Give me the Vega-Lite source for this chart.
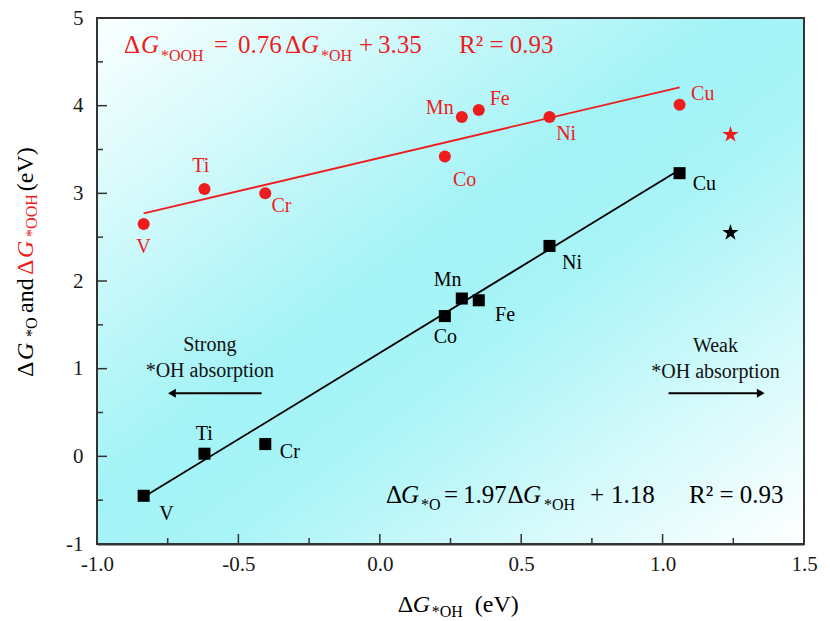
{
  "$schema": "https://vega.github.io/schema/vega-lite/v6.json",
  "width": 707,
  "height": 526,
  "autosize": "none",
  "padding": {"left": 97, "top": 18, "right": 26, "bottom": 77},
  "background": "white",
  "config": {
    "view": {"stroke": null},
    "font": "Liberation Serif",
    "axis": {
      "grid": false,
      "tickSize": 0,
      "tickOpacity": 0,
      "labelFlush": false,
      "labelOverlap": false,
      "labelBound": false,
      "labelFont": "Liberation Serif",
      "labelFontSize": 21,
      "labelColor": "#1a1a1a",
      "domainColor": "#333333",
      "domainWidth": 2
    },
    "axisX": {"labelPadding": 9},
    "axisY": {"labelPadding": 14}
  },
  "datasets": {
    "points": [
      {"element": "V", "series": "OOH", "x": -0.835, "y": 2.65},
      {"element": "Ti", "series": "OOH", "x": -0.62, "y": 3.05},
      {"element": "Cr", "series": "OOH", "x": -0.405, "y": 3.0},
      {"element": "Co", "series": "OOH", "x": 0.23, "y": 3.42},
      {"element": "Mn", "series": "OOH", "x": 0.29, "y": 3.87},
      {"element": "Fe", "series": "OOH", "x": 0.35, "y": 3.95},
      {"element": "Ni", "series": "OOH", "x": 0.6, "y": 3.87},
      {"element": "Cu", "series": "OOH", "x": 1.06, "y": 4.01},
      {"element": "V", "series": "O", "x": -0.835, "y": -0.45},
      {"element": "Ti", "series": "O", "x": -0.62, "y": 0.03},
      {"element": "Cr", "series": "O", "x": -0.405, "y": 0.14},
      {"element": "Co", "series": "O", "x": 0.23, "y": 1.6},
      {"element": "Mn", "series": "O", "x": 0.29, "y": 1.8},
      {"element": "Fe", "series": "O", "x": 0.35, "y": 1.78},
      {"element": "Ni", "series": "O", "x": 0.6, "y": 2.4},
      {"element": "Cu", "series": "O", "x": 1.06, "y": 3.23}
    ],
    "stars": [
      {"series": "OOH", "x": 1.24, "y": 3.67},
      {"series": "O", "x": 1.24, "y": 2.55}
    ],
    "fits": [
      {"series": "OOH", "x": -0.835, "y": 2.77},
      {"series": "OOH", "x": 1.06, "y": 4.21},
      {"series": "O", "x": -0.835, "y": -0.465},
      {"series": "O", "x": 1.06, "y": 3.268}
    ],
    "tags": [
      {"element": "V", "series": "OOH", "x": -0.836, "y": 2.39},
      {"element": "Ti", "series": "OOH", "x": -0.633, "y": 3.31},
      {"element": "Cr", "series": "OOH", "x": -0.348, "y": 2.85},
      {"element": "Co", "series": "OOH", "x": 0.3, "y": 3.15},
      {"element": "Mn", "series": "OOH", "x": 0.212, "y": 3.97},
      {"element": "Fe", "series": "OOH", "x": 0.424, "y": 4.08},
      {"element": "Ni", "series": "OOH", "x": 0.659, "y": 3.68},
      {"element": "Cu", "series": "OOH", "x": 1.142, "y": 4.13},
      {"element": "V", "series": "O", "x": -0.754, "y": -0.66},
      {"element": "Ti", "series": "O", "x": -0.621, "y": 0.26},
      {"element": "Cr", "series": "O", "x": -0.318, "y": 0.05},
      {"element": "Co", "series": "O", "x": 0.232, "y": 1.36},
      {"element": "Mn", "series": "O", "x": 0.24, "y": 2.01},
      {"element": "Fe", "series": "O", "x": 0.443, "y": 1.61},
      {"element": "Ni", "series": "O", "x": 0.68, "y": 2.21},
      {"element": "Cu", "series": "O", "x": 1.148, "y": 3.11}
    ],
    "notes": [
      {"text": "Strong", "x": -0.601, "y": 1.27},
      {"text": "*OH absorption", "x": -0.601, "y": 0.976},
      {"text": "Weak", "x": 1.187, "y": 1.26},
      {"text": "*OH absorption", "x": 1.187, "y": 0.96}
    ],
    "arrows": [
      {"side": "left", "x": -0.418, "x2": -0.73, "y": 0.72},
      {"side": "right", "x": 1.021, "x2": 1.345, "y": 0.72}
    ],
    "headsLeft": [{"x": -0.735, "y": 0.72}],
    "headsRight": [{"x": 1.347, "y": 0.72}],
    "xMajor": [{"x": -0.5}, {"x": 0}, {"x": 0.5}, {"x": 1}],
    "xMinor": [{"x": -0.75}, {"x": -0.25}, {"x": 0.25}, {"x": 0.75}, {"x": 1.25}],
    "yMajor": [{"y": 0}, {"y": 1}, {"y": 2}, {"y": 3}, {"y": 4}],
    "yMinor": [{"y": -0.5}, {"y": 0.5}, {"y": 1.5}, {"y": 2.5}, {"y": 3.5}, {"y": 4.5}],
    "eqMain": [
      {"series": "OOH", "text": "Δ", "x": -0.9045, "y": 4.599},
      {"series": "OOH", "text": "=", "x": -0.5863, "y": 4.599},
      {"series": "OOH", "text": "0.76", "x": -0.5014, "y": 4.599},
      {"series": "OOH", "text": "Δ", "x": -0.3352, "y": 4.599},
      {"series": "OOH", "text": "+", "x": -0.0736, "y": 4.599},
      {"series": "OOH", "text": "3.35", "x": -0.0064, "y": 4.599},
      {"series": "OOH", "text": "R² = 0.93", "x": 0.2801, "y": 4.599},
      {"series": "O", "text": "Δ", "x": 0.0219, "y": -0.529},
      {"series": "O", "text": "=", "x": 0.2271, "y": -0.529},
      {"series": "O", "text": "1.97", "x": 0.2943, "y": -0.529},
      {"series": "O", "text": "Δ", "x": 0.4516, "y": -0.529},
      {"series": "O", "text": "+", "x": 0.7433, "y": -0.529},
      {"series": "O", "text": "1.18", "x": 0.8175, "y": -0.529},
      {"series": "O", "text": "R² = 0.93", "x": 1.0934, "y": -0.529}
    ],
    "eqItalic": [
      {"series": "OOH", "text": "G", "x": -0.8444, "y": 4.599},
      {"series": "OOH", "text": "G", "x": -0.2787, "y": 4.599},
      {"series": "O", "text": "G", "x": 0.075, "y": -0.529},
      {"series": "O", "text": "G", "x": 0.5064, "y": -0.529}
    ],
    "eqSub": [
      {"series": "OOH", "text": "*OOH", "x": -0.7738, "y": 4.507},
      {"series": "OOH", "text": "*OH", "x": -0.208, "y": 4.507},
      {"series": "O", "text": "*O", "x": 0.1457, "y": -0.612},
      {"series": "O", "text": "*OH", "x": 0.5806, "y": -0.612}
    ],
    "xTitleMain": [
      {"series": "O", "text": "Δ", "x": 0.0636, "y": -1.775},
      {"series": "O", "text": "(eV)", "x": 0.336, "y": -1.775}
    ],
    "xTitleItalic": [
      {"series": "O", "text": "G", "x": 0.1166, "y": -1.775}
    ],
    "xTitleSub": [
      {"series": "O", "text": "*OH", "x": 0.1838, "y": -1.832}
    ],
    "yTitleMain": [
      {"series": "O", "text": "Δ", "x": -1.226, "y": 0.904},
      {"series": "O", "text": "and", "x": -1.226, "y": 1.636},
      {"series": "OOH", "text": "Δ", "x": -1.226, "y": 2.069},
      {"series": "O", "text": "(eV)", "x": -1.226, "y": 3.025}
    ],
    "yTitleItalic": [
      {"series": "O", "text": "G", "x": -1.226, "y": 1.098},
      {"series": "OOH", "text": "G", "x": -1.226, "y": 2.263}
    ],
    "yTitleSub": [
      {"series": "O", "text": "*O", "x": -1.212, "y": 1.361},
      {"series": "OOH", "text": "*OOH", "x": -1.212, "y": 2.503}
    ]
  },
  "layer": [
    {
      "data": {"values": [{}]},
      "mark": {
        "type": "rect",
        "fill": {
          "gradient": "linear",
          "x1": 0, "y1": 0, "x2": 1, "y2": 1,
          "stops": [
            {"offset": 0, "color": "#fbffff"},
            {"offset": 0.45, "color": "#a3f3f6"},
            {"offset": 0.58, "color": "#a8f4f7"},
            {"offset": 1, "color": "#ffffff"}
          ]
        },
        "stroke": "#333333",
        "strokeWidth": 2
      },
      "encoding": {
        "x": {"datum": -1, "type": "quantitative", "scale": {"domain": [-1, 1.5], "nice": false, "zero": false}, "axis": {"title": null, "values": [-1, -0.5, 0, 0.5, 1, 1.5], "labelExpr": "(datum.value<0 ? '-' : '') + format(abs(datum.value), '.1f')"}},
        "x2": {"datum": 1.5},
        "y": {"datum": -1, "type": "quantitative", "scale": {"domain": [-1, 5], "nice": false, "zero": false}, "axis": {"title": null, "values": [-1, 0, 1, 2, 3, 4, 5], "labelExpr": "(datum.value<0 ? '-' : '') + format(abs(datum.value), 'd')"}},
        "y2": {"datum": 5}
      }
    },
    {
      "data": {"name": "xMajor"},
      "mark": {"type": "tick", "orient": "vertical", "size": 10, "thickness": 1.5, "yOffset": -5, "color": "#333333", "opacity": 1},
      "encoding": {
        "x": {"field": "x", "type": "quantitative", "axis": {"title": null, "values": [-1, -0.5, 0, 0.5, 1, 1.5], "labelExpr": "(datum.value<0 ? '-' : '') + format(abs(datum.value), '.1f')"}},
        "y": {"datum": -1, "type": "quantitative", "axis": {"title": null, "values": [-1, 0, 1, 2, 3, 4, 5], "labelExpr": "(datum.value<0 ? '-' : '') + format(abs(datum.value), 'd')"}}
      }
    },
    {
      "data": {"name": "xMinor"},
      "mark": {"type": "tick", "orient": "vertical", "size": 6, "thickness": 1.5, "yOffset": -3, "color": "#333333", "opacity": 1},
      "encoding": {
        "x": {"field": "x", "type": "quantitative", "axis": {"title": null, "values": [-1, -0.5, 0, 0.5, 1, 1.5], "labelExpr": "(datum.value<0 ? '-' : '') + format(abs(datum.value), '.1f')"}},
        "y": {"datum": -1, "type": "quantitative", "axis": {"title": null, "values": [-1, 0, 1, 2, 3, 4, 5], "labelExpr": "(datum.value<0 ? '-' : '') + format(abs(datum.value), 'd')"}}
      }
    },
    {
      "data": {"name": "yMajor"},
      "mark": {"type": "tick", "orient": "horizontal", "size": 10, "thickness": 1.5, "xOffset": 5, "color": "#333333", "opacity": 1},
      "encoding": {
        "x": {"datum": -1, "type": "quantitative", "axis": {"title": null, "values": [-1, -0.5, 0, 0.5, 1, 1.5], "labelExpr": "(datum.value<0 ? '-' : '') + format(abs(datum.value), '.1f')"}},
        "y": {"field": "y", "type": "quantitative", "axis": {"title": null, "values": [-1, 0, 1, 2, 3, 4, 5], "labelExpr": "(datum.value<0 ? '-' : '') + format(abs(datum.value), 'd')"}}
      }
    },
    {
      "data": {"name": "yMinor"},
      "mark": {"type": "tick", "orient": "horizontal", "size": 6, "thickness": 1.5, "xOffset": 3, "color": "#333333", "opacity": 1},
      "encoding": {
        "x": {"datum": -1, "type": "quantitative", "axis": {"title": null, "values": [-1, -0.5, 0, 0.5, 1, 1.5], "labelExpr": "(datum.value<0 ? '-' : '') + format(abs(datum.value), '.1f')"}},
        "y": {"field": "y", "type": "quantitative", "axis": {"title": null, "values": [-1, 0, 1, 2, 3, 4, 5], "labelExpr": "(datum.value<0 ? '-' : '') + format(abs(datum.value), 'd')"}}
      }
    },
    {
      "data": {"name": "fits"},
      "mark": {"type": "line", "strokeWidth": 1.8},
      "encoding": {
        "x": {"field": "x", "type": "quantitative", "axis": {"title": null, "values": [-1, -0.5, 0, 0.5, 1, 1.5], "labelExpr": "(datum.value<0 ? '-' : '') + format(abs(datum.value), '.1f')"}},
        "y": {"field": "y", "type": "quantitative", "axis": {"title": null, "values": [-1, 0, 1, 2, 3, 4, 5], "labelExpr": "(datum.value<0 ? '-' : '') + format(abs(datum.value), 'd')"}},
        "color": {"field": "series", "type": "nominal", "scale": {"domain": ["O", "OOH"], "range": ["#000000", "#ee1c1c"]}, "legend": null}
      }
    },
    {
      "data": {"name": "points"},
      "mark": {"type": "point", "filled": true, "opacity": 1, "size": 145},
      "encoding": {
        "x": {"field": "x", "type": "quantitative", "axis": {"title": null, "values": [-1, -0.5, 0, 0.5, 1, 1.5], "labelExpr": "(datum.value<0 ? '-' : '') + format(abs(datum.value), '.1f')"}},
        "y": {"field": "y", "type": "quantitative", "axis": {"title": null, "values": [-1, 0, 1, 2, 3, 4, 5], "labelExpr": "(datum.value<0 ? '-' : '') + format(abs(datum.value), 'd')"}},
        "color": {"field": "series", "type": "nominal", "legend": null},
        "shape": {"field": "series", "type": "nominal", "scale": {"domain": ["O", "OOH"], "range": ["square", "circle"]}, "legend": null}
      }
    },
    {
      "data": {"name": "stars"},
      "mark": {
        "type": "point",
        "filled": true,
        "opacity": 1,
        "size": 300,
        "shape": "M0,-1L0.2245,-0.309L0.951,-0.309L0.363,0.118L0.588,0.809L0,0.382L-0.588,0.809L-0.363,0.118L-0.951,-0.309L-0.2245,-0.309Z"
      },
      "encoding": {
        "x": {"field": "x", "type": "quantitative", "axis": {"title": null, "values": [-1, -0.5, 0, 0.5, 1, 1.5], "labelExpr": "(datum.value<0 ? '-' : '') + format(abs(datum.value), '.1f')"}},
        "y": {"field": "y", "type": "quantitative", "axis": {"title": null, "values": [-1, 0, 1, 2, 3, 4, 5], "labelExpr": "(datum.value<0 ? '-' : '') + format(abs(datum.value), 'd')"}},
        "color": {"field": "series", "type": "nominal", "legend": null}
      }
    },
    {
      "data": {"name": "tags"},
      "mark": {"type": "text", "font": "Liberation Serif", "fontSize": 20, "align": "center", "baseline": "middle"},
      "encoding": {
        "x": {"field": "x", "type": "quantitative", "axis": {"title": null, "values": [-1, -0.5, 0, 0.5, 1, 1.5], "labelExpr": "(datum.value<0 ? '-' : '') + format(abs(datum.value), '.1f')"}},
        "y": {"field": "y", "type": "quantitative", "axis": {"title": null, "values": [-1, 0, 1, 2, 3, 4, 5], "labelExpr": "(datum.value<0 ? '-' : '') + format(abs(datum.value), 'd')"}},
        "text": {"field": "element"},
        "color": {"field": "series", "type": "nominal", "legend": null}
      }
    },
    {
      "data": {"name": "notes"},
      "mark": {"type": "text", "font": "Liberation Serif", "fontSize": 20, "align": "center", "baseline": "middle", "color": "#111111"},
      "encoding": {
        "x": {"field": "x", "type": "quantitative", "axis": {"title": null, "values": [-1, -0.5, 0, 0.5, 1, 1.5], "labelExpr": "(datum.value<0 ? '-' : '') + format(abs(datum.value), '.1f')"}},
        "y": {"field": "y", "type": "quantitative", "axis": {"title": null, "values": [-1, 0, 1, 2, 3, 4, 5], "labelExpr": "(datum.value<0 ? '-' : '') + format(abs(datum.value), 'd')"}},
        "text": {"field": "text"}
      }
    },
    {
      "data": {"name": "arrows"},
      "mark": {"type": "rule", "strokeWidth": 2, "color": "#000000"},
      "encoding": {
        "x": {"field": "x", "type": "quantitative", "axis": {"title": null, "values": [-1, -0.5, 0, 0.5, 1, 1.5], "labelExpr": "(datum.value<0 ? '-' : '') + format(abs(datum.value), '.1f')"}},
        "x2": {"field": "x2"},
        "y": {"field": "y", "type": "quantitative", "axis": {"title": null, "values": [-1, 0, 1, 2, 3, 4, 5], "labelExpr": "(datum.value<0 ? '-' : '') + format(abs(datum.value), 'd')"}}
      }
    },
    {
      "data": {"name": "headsLeft"},
      "mark": {"type": "point", "filled": true, "opacity": 1, "size": 80, "color": "#000000", "shape": "triangle-left"},
      "encoding": {
        "x": {"field": "x", "type": "quantitative", "axis": {"title": null, "values": [-1, -0.5, 0, 0.5, 1, 1.5], "labelExpr": "(datum.value<0 ? '-' : '') + format(abs(datum.value), '.1f')"}},
        "y": {"field": "y", "type": "quantitative", "axis": {"title": null, "values": [-1, 0, 1, 2, 3, 4, 5], "labelExpr": "(datum.value<0 ? '-' : '') + format(abs(datum.value), 'd')"}}
      }
    },
    {
      "data": {"name": "headsRight"},
      "mark": {"type": "point", "filled": true, "opacity": 1, "size": 80, "color": "#000000", "shape": "triangle-right"},
      "encoding": {
        "x": {"field": "x", "type": "quantitative", "axis": {"title": null, "values": [-1, -0.5, 0, 0.5, 1, 1.5], "labelExpr": "(datum.value<0 ? '-' : '') + format(abs(datum.value), '.1f')"}},
        "y": {"field": "y", "type": "quantitative", "axis": {"title": null, "values": [-1, 0, 1, 2, 3, 4, 5], "labelExpr": "(datum.value<0 ? '-' : '') + format(abs(datum.value), 'd')"}}
      }
    },
    {
      "data": {"name": "eqMain"},
      "mark": {"type": "text", "font": "Liberation Serif", "fontSize": 25, "align": "left", "baseline": "alphabetic"},
      "encoding": {
        "x": {"field": "x", "type": "quantitative", "axis": {"title": null, "values": [-1, -0.5, 0, 0.5, 1, 1.5], "labelExpr": "(datum.value<0 ? '-' : '') + format(abs(datum.value), '.1f')"}},
        "y": {"field": "y", "type": "quantitative", "axis": {"title": null, "values": [-1, 0, 1, 2, 3, 4, 5], "labelExpr": "(datum.value<0 ? '-' : '') + format(abs(datum.value), 'd')"}},
        "text": {"field": "text"},
        "color": {"field": "series", "type": "nominal", "legend": null}
      }
    },
    {
      "data": {"name": "eqItalic"},
      "mark": {"type": "text", "font": "Liberation Serif", "fontSize": 25, "fontStyle": "italic", "align": "left", "baseline": "alphabetic"},
      "encoding": {
        "x": {"field": "x", "type": "quantitative", "axis": {"title": null, "values": [-1, -0.5, 0, 0.5, 1, 1.5], "labelExpr": "(datum.value<0 ? '-' : '') + format(abs(datum.value), '.1f')"}},
        "y": {"field": "y", "type": "quantitative", "axis": {"title": null, "values": [-1, 0, 1, 2, 3, 4, 5], "labelExpr": "(datum.value<0 ? '-' : '') + format(abs(datum.value), 'd')"}},
        "text": {"field": "text"},
        "color": {"field": "series", "type": "nominal", "legend": null}
      }
    },
    {
      "data": {"name": "eqSub"},
      "mark": {"type": "text", "font": "Liberation Serif", "fontSize": 16, "align": "left", "baseline": "alphabetic"},
      "encoding": {
        "x": {"field": "x", "type": "quantitative", "axis": {"title": null, "values": [-1, -0.5, 0, 0.5, 1, 1.5], "labelExpr": "(datum.value<0 ? '-' : '') + format(abs(datum.value), '.1f')"}},
        "y": {"field": "y", "type": "quantitative", "axis": {"title": null, "values": [-1, 0, 1, 2, 3, 4, 5], "labelExpr": "(datum.value<0 ? '-' : '') + format(abs(datum.value), 'd')"}},
        "text": {"field": "text"},
        "color": {"field": "series", "type": "nominal", "legend": null}
      }
    },
    {
      "data": {"name": "xTitleMain"},
      "mark": {"type": "text", "font": "Liberation Serif", "fontSize": 24, "align": "left", "baseline": "alphabetic"},
      "encoding": {
        "x": {"field": "x", "type": "quantitative", "axis": {"title": null, "values": [-1, -0.5, 0, 0.5, 1, 1.5], "labelExpr": "(datum.value<0 ? '-' : '') + format(abs(datum.value), '.1f')"}},
        "y": {"field": "y", "type": "quantitative", "axis": {"title": null, "values": [-1, 0, 1, 2, 3, 4, 5], "labelExpr": "(datum.value<0 ? '-' : '') + format(abs(datum.value), 'd')"}},
        "text": {"field": "text"},
        "color": {"field": "series", "type": "nominal", "legend": null}
      }
    },
    {
      "data": {"name": "xTitleItalic"},
      "mark": {"type": "text", "font": "Liberation Serif", "fontSize": 24, "fontStyle": "italic", "align": "left", "baseline": "alphabetic"},
      "encoding": {
        "x": {"field": "x", "type": "quantitative", "axis": {"title": null, "values": [-1, -0.5, 0, 0.5, 1, 1.5], "labelExpr": "(datum.value<0 ? '-' : '') + format(abs(datum.value), '.1f')"}},
        "y": {"field": "y", "type": "quantitative", "axis": {"title": null, "values": [-1, 0, 1, 2, 3, 4, 5], "labelExpr": "(datum.value<0 ? '-' : '') + format(abs(datum.value), 'd')"}},
        "text": {"field": "text"},
        "color": {"field": "series", "type": "nominal", "legend": null}
      }
    },
    {
      "data": {"name": "xTitleSub"},
      "mark": {"type": "text", "font": "Liberation Serif", "fontSize": 16, "align": "left", "baseline": "alphabetic"},
      "encoding": {
        "x": {"field": "x", "type": "quantitative", "axis": {"title": null, "values": [-1, -0.5, 0, 0.5, 1, 1.5], "labelExpr": "(datum.value<0 ? '-' : '') + format(abs(datum.value), '.1f')"}},
        "y": {"field": "y", "type": "quantitative", "axis": {"title": null, "values": [-1, 0, 1, 2, 3, 4, 5], "labelExpr": "(datum.value<0 ? '-' : '') + format(abs(datum.value), 'd')"}},
        "text": {"field": "text"},
        "color": {"field": "series", "type": "nominal", "legend": null}
      }
    },
    {
      "data": {"name": "yTitleMain"},
      "mark": {"type": "text", "font": "Liberation Serif", "fontSize": 24, "angle": 270, "align": "left", "baseline": "alphabetic"},
      "encoding": {
        "x": {"field": "x", "type": "quantitative", "axis": {"title": null, "values": [-1, -0.5, 0, 0.5, 1, 1.5], "labelExpr": "(datum.value<0 ? '-' : '') + format(abs(datum.value), '.1f')"}},
        "y": {"field": "y", "type": "quantitative", "axis": {"title": null, "values": [-1, 0, 1, 2, 3, 4, 5], "labelExpr": "(datum.value<0 ? '-' : '') + format(abs(datum.value), 'd')"}},
        "text": {"field": "text"},
        "color": {"field": "series", "type": "nominal", "legend": null}
      }
    },
    {
      "data": {"name": "yTitleItalic"},
      "mark": {"type": "text", "font": "Liberation Serif", "fontSize": 24, "fontStyle": "italic", "angle": 270, "align": "left", "baseline": "alphabetic"},
      "encoding": {
        "x": {"field": "x", "type": "quantitative", "axis": {"title": null, "values": [-1, -0.5, 0, 0.5, 1, 1.5], "labelExpr": "(datum.value<0 ? '-' : '') + format(abs(datum.value), '.1f')"}},
        "y": {"field": "y", "type": "quantitative", "axis": {"title": null, "values": [-1, 0, 1, 2, 3, 4, 5], "labelExpr": "(datum.value<0 ? '-' : '') + format(abs(datum.value), 'd')"}},
        "text": {"field": "text"},
        "color": {"field": "series", "type": "nominal", "legend": null}
      }
    },
    {
      "data": {"name": "yTitleSub"},
      "mark": {"type": "text", "font": "Liberation Serif", "fontSize": 16, "angle": 270, "align": "left", "baseline": "alphabetic"},
      "encoding": {
        "x": {"field": "x", "type": "quantitative", "axis": {"title": null, "values": [-1, -0.5, 0, 0.5, 1, 1.5], "labelExpr": "(datum.value<0 ? '-' : '') + format(abs(datum.value), '.1f')"}},
        "y": {"field": "y", "type": "quantitative", "axis": {"title": null, "values": [-1, 0, 1, 2, 3, 4, 5], "labelExpr": "(datum.value<0 ? '-' : '') + format(abs(datum.value), 'd')"}},
        "text": {"field": "text"},
        "color": {"field": "series", "type": "nominal", "legend": null}
      }
    }
  ]
}
